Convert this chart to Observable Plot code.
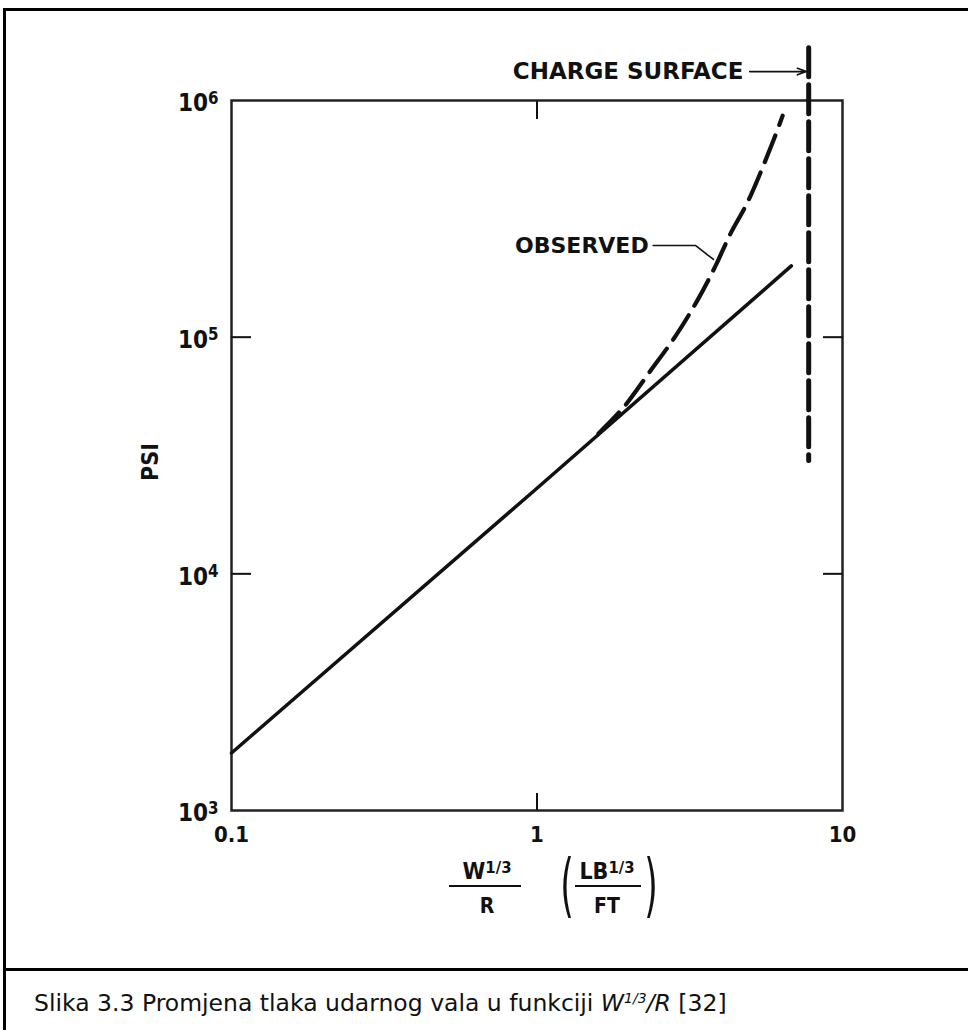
<!DOCTYPE html>
<html>
<head>
<meta charset="utf-8">
<script src="https://cdn.jsdelivr.net/npm/d3@7"></script>
<script src="https://cdn.jsdelivr.net/npm/@observablehq/plot@0.6"></script>
<style>
  body { margin: 0; background: #fff; }
  #box { position: absolute; left: 3px; top: 8px; width: 990px; height: 1050px; border-left: 3px solid #000; border-top: 3px solid #000; }
  #chart { position: absolute; left: 0; top: 0; }
  #sep { position: absolute; left: 3px; top: 968px; width: 990px; border-top: 3px solid #000; }
  #caption { position: absolute; left: 34px; top: 989px; font-family: "DejaVu Sans", sans-serif; font-size: 23.5px; line-height: 28px; color: #111; white-space: nowrap; }
  #caption sup { font-size: 14px; vertical-align: 8px; line-height: 0; }
</style>
</head>
<body>
<div id="box"></div>
<div id="chart"></div>
<div id="sep"></div>
<div id="caption">Slika 3.3 Promjena tlaka udarnog vala u funkciji <i>W<sup>1/3</sup>/R</i> [32]</div>
<script>
// ---- data ----
const xTicks = [0.1, 1, 10];
const xTickLabels = ["0.1", "1", "10"];
const yTicks = [1e3, 1e4, 1e5, 1e6];
const yExponents = ["3", "4", "5", "6"];

// predicted (solid) line
const solidX = [0.1, 1, 6.8];
const solidY = [1750, 23000, 200000];

// observed (dashed) curve
const obsX = [1.59, 1.92, 2.35, 2.84, 3.35, 3.84, 4.30, 4.92, 5.94, 6.37];
const obsY = [39200, 50500, 72000, 101000, 143000, 200000, 274000, 378000, 678000, 863000];

// charge surface (vertical dashed line)
const chargeX = [7.75, 7.75];
const chargeY = [1.67e6, 30100];

// annotation anchors (data coordinates)
const chargeLabel = { x: 4.74, y: 1.325e6, text: "CHARGE SURFACE" };
const chargeArrow = { x1: 4.97, x2: 7.62, y: 1.325e6 };
const obsLabel = { x: 2.32, y: 2.44e5, text: "OBSERVED" };
const leaderX = [2.40, 3.30, 3.78];
const leaderY = [2.44e5, 2.44e5, 2.13e5];

const solid = solidX.map((x, i) => ({ x, y: solidY[i] }));
const observed = obsX.map((x, i) => ({ x, y: obsY[i] }));
const charge = chargeX.map((x, i) => ({ x, y: chargeY[i] }));
const leader = leaderX.map((x, i) => ({ x, y: leaderY[i] }));

const tickFont = '"DejaVu Sans Condensed", "DejaVu Sans", sans-serif';
const noteFont = '"DejaVu Sans", sans-serif';
const ink = "#111";

const chart = Plot.plot({
  width: 968,
  height: 965,
  marginLeft: 231,
  marginRight: 126,
  marginTop: 100,
  marginBottom: 155,
  style: { fontFamily: tickFont, fontWeight: "bold", color: ink, background: "transparent", overflow: "visible" },
  x: { type: "log", domain: [0.1, 10] },
  y: { type: "log", domain: [1e3, 1e6] },
  marks: [
    Plot.frame({ stroke: "#222", strokeWidth: 2.5 }),
    Plot.axisY({ anchor: "left", ticks: yTicks, tickSize: 0, tickPadding: 13, fontSize: 24, tickFormat: d => "10^" + yExponents[yTicks.indexOf(d)], label: null, dy: 3 }),
    Plot.axisY({ anchor: "left", ticks: [1e4, 1e5], tickSize: -20, tickFormat: () => "", label: null, strokeWidth: 2 }),
    Plot.axisY({ anchor: "right", ticks: [1e4, 1e5], tickSize: -20, tickFormat: () => "", label: null, strokeWidth: 2 }),
    Plot.axisX({ anchor: "bottom", ticks: xTicks, tickSize: 0, tickPadding: 16, fontSize: 22, tickFormat: d => xTickLabels[xTicks.indexOf(d)], label: null }),
    Plot.axisX({ anchor: "bottom", ticks: [1], tickSize: -17, tickFormat: () => "", label: null, strokeWidth: 2 }),
    Plot.axisX({ anchor: "top", ticks: [1], tickSize: -18, tickFormat: () => "", label: null, strokeWidth: 2 }),
    Plot.line(solid, { x: "x", y: "y", stroke: ink, strokeWidth: 3.5 }),
    Plot.line(observed, { x: "x", y: "y", stroke: ink, strokeWidth: 4.2, strokeDasharray: "29,11", curve: "catmull-rom" }),
    Plot.line(charge, { x: "x", y: "y", stroke: ink, strokeWidth: 5, strokeDasharray: "29,8" }),
    Plot.line(leader, { x: "x", y: "y", stroke: ink, strokeWidth: 1.6 }),
    Plot.arrow([chargeArrow], { x1: "x1", x2: "x2", y1: "y", y2: "y", stroke: ink, strokeWidth: 1.6, headLength: 9, headAngle: 40 }),
    Plot.text([chargeLabel], { x: "x", y: "y", text: "text", textAnchor: "end", fontSize: 23, fontWeight: "bold", fontFamily: noteFont, fill: ink }),
    Plot.text([obsLabel], { x: "x", y: "y", text: "text", textAnchor: "end", fontSize: 22, fontWeight: "bold", fontFamily: noteFont, fill: ink })
  ]
});

document.getElementById("chart").append(chart);

const svg = d3.select(chart);
// superscript exponents on y tick labels
svg.selectAll('g[aria-label="y-axis tick label"] text').each(function () {
  const t = this.textContent;
  if (t.indexOf("^") < 0) return;
  const [base, exp] = t.split("^");
  const el = d3.select(this);
  el.text(null);
  el.append("tspan").text(base);
  el.append("tspan").attr("dy", "-0.45em").attr("font-size", "0.7em").text(exp);
});

// y-axis title
svg.append("text")
  .attr("transform", "translate(150,462) rotate(-90)")
  .attr("text-anchor", "middle").attr("dy", "0.36em")
  .attr("font-family", tickFont).attr("font-weight", "bold").attr("font-size", 23).attr("fill", ink)
  .text("PSI");

// x-axis title: W^(1/3)/R  (LB^(1/3)/FT)
const xt = svg.append("g").attr("font-family", tickFont).attr("font-weight", "bold").attr("fill", ink).attr("text-anchor", "middle");
function frac(cx, num, den, lineX1, lineX2) {
  const n = xt.append("text").attr("x", cx).attr("y", 879).attr("font-size", 23);
  n.append("tspan").text(num);
  n.append("tspan").attr("dy", "-0.38em").attr("font-size", "0.72em").text("1/3");
  xt.append("line").attr("x1", lineX1).attr("x2", lineX2).attr("y1", 886).attr("y2", 886).attr("stroke", ink).attr("stroke-width", 2.2);
  xt.append("text").attr("x", cx).attr("y", 913).attr("font-size", 21).text(den);
}
frac(487, "W", "R", 449, 521);
frac(607, "LB", "FT", 575, 641);
xt.append("text").attr("transform", "translate(567,909) scale(0.55,1)").attr("font-size", 70).attr("font-weight", "normal").text("(");
xt.append("text").attr("transform", "translate(651,909) scale(0.55,1)").attr("font-size", 70).attr("font-weight", "normal").text(")");
</script>
</body>
</html>
